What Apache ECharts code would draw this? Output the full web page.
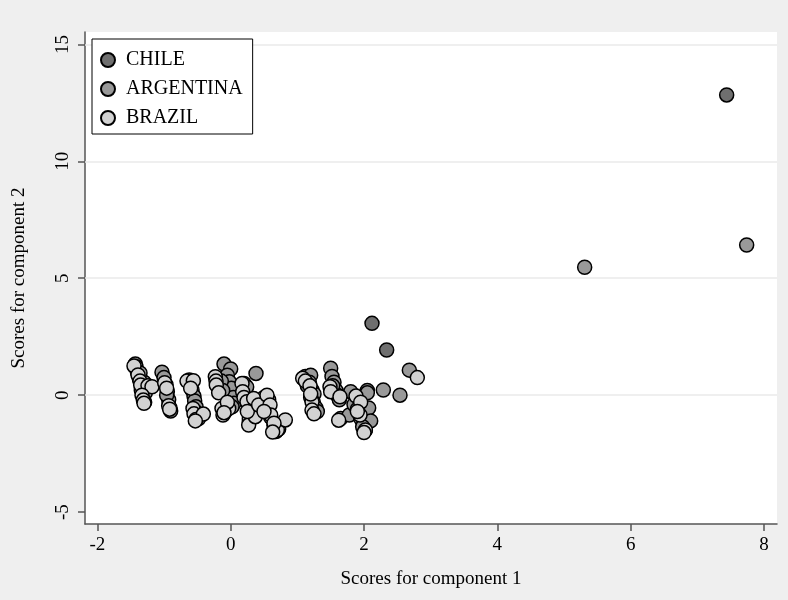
<!DOCTYPE html>
<html>
<head>
<meta charset="utf-8">
<script src="https://cdn.jsdelivr.net/npm/echarts@6/dist/echarts.min.js"></script>
<style>html,body{margin:0;padding:0;background:#efefef;}#c{width:788px;height:600px;}</style>
</head>
<body>
<div id="c"></div>
<script>
const seriesNames = ['CHILE', 'ARGENTINA', 'BRAZIL'];
const xTicks = [-2, 0, 2, 4, 6, 8];
const yTicks = [-5, 0, 5, 10, 15];
const yGrid = [0, 5, 10, 15];

const chile = [[2.12,3.07],[2.34,1.93],[7.44,12.84]];

const argentina = [
  [-1.43,1.33],[-1.42,1.22],[-1.40,1.0],[-1.37,0.7],[-1.30,0.55],[-1.26,0.35],[-1.34,0.2],[-1.31,-0.1],[-1.29,-0.3],[-1.36,0.95],[-1.28,0.1],
  [-1.03,0.98],[-1.0,0.75],[-0.97,0.45],[-0.95,0.15],[-0.93,-0.2],[-0.91,-0.55],[-0.90,-0.68],[-0.96,0.0],
  [-0.60,0.45],[-0.58,0.22],[-0.55,-0.05],[-0.54,-0.25],[-0.52,-0.5],[-0.50,-0.85],[-0.48,-1.0],[-0.62,0.65],[-0.53,-0.7],
  [-0.10,1.33],[0.0,1.12],[-0.05,0.85],[-0.02,0.57],[0.01,0.3],[0.04,-0.1],[0.05,-0.35],[-0.08,-0.7],[0.38,0.93],[-0.14,0.6],[-0.12,0.2],[0.02,-0.5],
  [0.2,0.5],[0.22,0.2],[0.25,-0.1],[0.27,-0.5],[0.3,-0.85],[0.28,-1.1],[0.24,0.35],
  [0.45,-0.3],[0.5,-0.1],[0.55,-0.6],[0.6,-0.95],[0.65,-1.3],[0.68,-1.55],[0.72,-1.45],[0.57,-0.2],
  [1.12,0.8],[1.2,0.85],[1.18,0.55],[1.22,0.22],[1.25,0.05],[1.24,-0.3],[1.28,-0.55],[1.3,-0.7],[1.15,0.4],[1.2,-0.1],
  [1.5,1.15],[1.52,0.8],[1.55,0.55],[1.58,0.2],[1.6,0.0],[1.63,-0.2],[1.65,-1.0],[1.53,0.4],
  [1.8,0.15],[1.78,-0.85],[1.85,-0.4],[1.9,-0.6],[1.95,-1.0],[2.0,-1.2],[2.05,0.2],[2.07,-0.55],[2.1,-1.1],[2.02,-1.5],[2.05,0.1],[1.98,-1.35],
  [2.29,0.22],[2.54,0.0],[2.68,1.07],[5.31,5.47],[7.74,6.42]
];

const brazil = [
  [-1.45,1.25],[-1.39,0.86],[-1.36,0.6],[-1.35,0.43],[-1.24,0.4],[-1.18,0.36],[-1.33,0.0],[-1.31,-0.21],[-1.3,-0.35],
  [-0.99,0.53],[-0.96,0.3],[-0.93,-0.45],[-0.915,-0.6],
  [-0.655,0.6],[-0.56,0.62],[-0.6,0.3],[-0.565,-0.57],[-0.55,-0.8],[-0.52,-1.04],[-0.41,-0.81],[-0.53,-1.1],
  [-0.23,0.79],[-0.22,0.6],[-0.216,0.43],[-0.18,0.1],[-0.13,-0.57],[-0.115,-0.85],[-0.03,-0.57],[-0.05,-0.3],[-0.1,-0.75],
  [0.17,0.5],[0.18,0.15],[0.2,-0.1],[0.245,-0.28],[0.28,-0.99],[0.27,-1.28],[0.37,-0.92],[0.25,-0.7],[0.345,-0.14],[0.42,-0.42],
  [0.545,0.0],[0.59,-0.42],[0.6,-0.85],[0.7,-1.49],[0.82,-1.06],[0.65,-1.2],[0.5,-0.7],[0.63,-1.58],
  [1.08,0.72],[1.12,0.6],[1.19,0.4],[1.22,-0.28],[1.22,-0.64],[1.25,-0.8],[1.2,0.05],
  [1.49,0.36],[1.5,0.15],[1.64,-0.07],[1.62,-1.07],[1.88,-0.04],[1.94,-0.85],[2.02,-1.49],[1.95,-0.3],[2.0,-1.6],[1.9,-0.7],
  [2.80,0.75]
];

const colors = ['#6f6f6f', '#999999', '#d2d2d2'];
const font = 'Liberation Serif, Times New Roman, serif';

function sc(name, data, color) {
  return {
    name: name, type: 'scatter', data: data, symbol: 'circle', symbolSize: 14,
    itemStyle: { color: color, borderColor: '#000', borderWidth: 1.5, opacity: 1 },
    emphasis: { disabled: true }, z: 3
  };
}

const chart = echarts.init(document.getElementById('c'), null, { renderer: 'canvas' });
chart.setOption({
  animation: false,
  backgroundColor: '#efefef',
  textStyle: { fontFamily: font },
  grid: { left: 85, right: 11, top: 32, bottom: 76, show: true, backgroundColor: '#ffffff', borderWidth: 0, borderColor: '#ffffff' },
  legend: {
    data: seriesNames, orient: 'vertical', left: 92, top: 39,
    backgroundColor: '#ffffff', borderColor: '#000', borderWidth: 1,
    padding: [11, 10, 6, 8], itemGap: 9, itemWidth: 14, itemHeight: 14,
    textStyle: { fontFamily: font, fontSize: 20, color: '#000', padding: [0, 0, 0, 6] },
    selectedMode: false
  },
  xAxis: {
    type: 'value', min: -2.185, max: 8.195,
    name: 'Scores for component 1', nameLocation: 'middle', nameGap: 46,
    nameTextStyle: { fontFamily: font, fontSize: 19, color: '#000' },
    axisLine: { show: true, onZero: false, lineStyle: { color: '#555', width: 1.5 } },
    axisTick: { show: true, inside: false, length: 7, lineStyle: { color: '#555', width: 1.5 }, customValues: xTicks },
    axisLabel: { fontFamily: font, fontSize: 19, color: '#000', margin: 12, customValues: xTicks },
    splitLine: { show: false }
  },
  yAxis: {
    type: 'value', min: -5.51, max: 15.53,
    name: 'Scores for component 2', nameLocation: 'middle', nameGap: 56,
    nameTextStyle: { fontFamily: font, fontSize: 19, color: '#000' },
    axisLine: { show: true, onZero: false, lineStyle: { color: '#555', width: 1.5 } },
    axisTick: { show: true, inside: false, length: 7, lineStyle: { color: '#555', width: 1.5 }, customValues: yTicks },
    axisLabel: { fontFamily: font, fontSize: 19, color: '#000', rotate: 90, margin: 12, customValues: yTicks },
    splitLine: { show: false }
  },
  series: [
    {
      name: 'grid', type: 'scatter', data: [], z: 1, silent: true,
      markLine: {
        silent: true, symbol: ['none', 'none'], z: 1, label: { show: false },
        lineStyle: { color: '#eaeaea', width: 1.5, type: 'solid' },
        emphasis: { disabled: true },
        data: yGrid.map(v => ({ yAxis: v }))
      }
    },
    sc(seriesNames[0], chile, colors[0]),
    sc(seriesNames[1], argentina, colors[1]),
    sc(seriesNames[2], brazil, colors[2])
  ]
});
</script>
</body>
</html>
